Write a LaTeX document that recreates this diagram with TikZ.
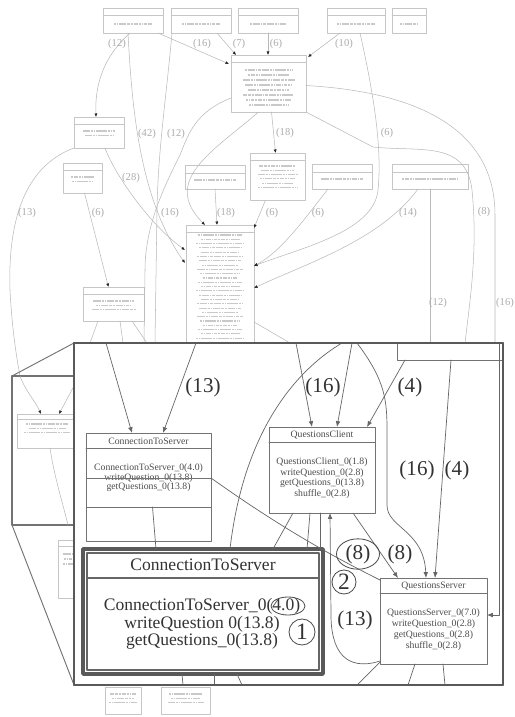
\documentclass[tikz,border=0pt]{standalone}
\usepackage{fontspec}
\setmainfont{Liberation Serif}
\usetikzlibrary{arrows.meta, positioning, calc, shapes.geometric}

% class box: style, name, x, y, width, height, header (all in px)
\newcommand{\classbox}[7]{%
  \node[#1, minimum width=#5*\px, minimum height=#6*\px, anchor=north west] (#2) at (#3,#4) {};
  \draw[#1, fill=none] ([yshift=-#7*\px]#2.north west) -- ([yshift=-#7*\px]#2.north east);
}
% unreadable text rows: node, offset, rows, width, step
\newcommand{\blurrows}[5]{%
  \foreach \k in {1,...,#3}{%
    \pgfmathsetmacro{\ww}{#4*(0.72+0.028*mod(7*\k,11))}
    \draw[blurtext] ($(#1.north)+({-\ww/2},{#2+#5*(\k-1)})$) -- ++(\ww,0);
  }%
}

\begin{document}
\begin{tikzpicture}[x=0.03cm, y=-0.03cm, >=Latex, line cap=round, line join=round]

	%======================
	% PARAMETERS
	%======================
	\def\px{0.03cm}      % one pixel of the scan
	
	%======================
	% STYLES
	%======================
	\tikzset{
		bgbox/.style={draw=gray!45, line width=0.4pt, fill=white, inner sep=0pt, outer sep=0pt},
		blurtext/.style={draw=gray!42, line width=1pt, dash pattern=on 2pt off 0.5pt on 1.1pt off 0.5pt on 2.6pt off 0.5pt, line cap=butt},
		bgedge/.style={draw=gray!55, line width=0.45pt},
		bgarrow/.style={bgedge, -{Latex[length=3pt,width=2.6pt,color=gray!30!black]}},
		bglabel/.style={text=gray!65, font=\fontsize{9}{9}\selectfont, inner sep=0pt},
		zoomframe/.style={draw=black!65, line width=2.2pt, fill=white},
		sideframe/.style={draw=black!55, line width=1.1pt, fill=white},
		sidelink/.style={draw=black!55, line width=0.8pt},
		midbox/.style={draw=black!55, line width=0.7pt, fill=white, inner sep=0pt, outer sep=0pt},
		midedge/.style={draw=black!60, line width=0.6pt},
		midarrow/.style={midedge, -{Latex[length=5pt,width=4pt]}},
		midtext/.style={text=black!70, font=\fontsize{8.3}{8.2}\selectfont, align=center, inner sep=0pt},
		midlabel/.style={text=black!80, font=\fontsize{18}{18}\selectfont, inner sep=1pt},
		bigbox/.style={draw=black!65, line width=3pt, fill=white, inner sep=0pt, outer sep=0pt},
		bigrule/.style={draw=black!60, line width=0.9pt},
		bigtext/.style={text=black!80, font=\fontsize{15}{15}\selectfont, align=center, inner sep=0pt},
		ringmark/.style={draw=black!70, line width=0.7pt}
	}
	
	\useasboundingbox (0,0) rectangle (515,717);
	\clip (0,0) rectangle (515,717);
	\fill[white] (0,0) rectangle (515,717);
	
	\coordinate (zoomNW) at (74,343);
	\coordinate (zoomSE) at (503,685);
	\coordinate (sideNW) at (12,376);
	\coordinate (sideSE) at (74,525);
	
	%======================
	% BACKGROUND GRAPH: boxes
	%======================
	\classbox{bgbox}{clsA}{103}{8}{60}{25}{7}
	\classbox{bgbox}{clsB}{171}{8}{60}{25}{7}
	\classbox{bgbox}{clsC}{238}{8}{60}{25}{7}
	\classbox{bgbox}{clsD}{327}{8}{58}{25}{7}
	\classbox{bgbox}{clsE}{392}{8}{34}{25}{7}
	\classbox{bgbox}{clsQ}{231}{55}{75}{57}{7}
	\classbox{bgbox}{clsF}{74}{117}{50}{31}{7}
	\classbox{bgbox}{clsG}{63}{163}{39}{30}{7}
	\classbox{bgbox}{clsH}{250}{153}{55}{47}{7}
	\classbox{bgbox}{clsI}{185}{165}{60}{24}{8}
	\classbox{bgbox}{clsJ}{312}{164}{60}{25}{8}
	\classbox{bgbox}{clsK}{392}{164}{76}{25}{8}
	\classbox{bgbox}{clsL}{186}{225}{68}{135}{7}
	\classbox{bgbox}{clsM}{83}{287}{61}{34}{7}
	
	\blurrows{clsA}{16}{1}{42}{4.3}
	\blurrows{clsB}{16}{1}{42}{4.3}
	\blurrows{clsC}{16}{1}{40}{4.3}
	\blurrows{clsD}{16}{1}{42}{4.3}
	\blurrows{clsE}{16}{1}{20}{4.3}
	\blurrows{clsQ}{15}{8}{52}{5}
	\blurrows{clsF}{14}{2}{36}{4.3}
	\blurrows{clsG}{14}{2}{26}{4.3}
	\blurrows{clsH}{13}{6}{40}{4.3}
	\blurrows{clsI}{15}{1}{45}{4.3}
	\blurrows{clsJ}{15}{1}{45}{4.3}
	\blurrows{clsK}{15}{1}{62}{4.3}
	\blurrows{clsL}{10}{26}{48}{4.3}
	\blurrows{clsM}{14}{3}{44}{4.3}
	
	%======================
	% BACKGROUND GRAPH: edges
	%======================
	\draw[bgarrow] ($(clsA.south)+(-3,0)$) .. controls (100,60) and (95,90) .. ($(clsF.north)+(-3,0)$);
	\draw[bgarrow] ($(clsA.south east)+(-5,0)$) -- ($(clsQ.north west)+(-2,9)$);
	\draw[bgarrow] ($(clsB.south)+(16,0)$) -- ($(clsQ.north west)+(5,0)$);
	\draw[bgarrow] (clsC.south) -- (clsQ.north -| clsC.south);
	\draw[bgarrow] ($(clsD.south west)+(13,0)$) -- ($(clsQ.north east)+(2,2)$);
	\draw[bgarrow] ($(clsD.south)+(4,0)$) .. controls (375,100) and (382,150) .. (378,190)
		.. controls (374,232) and (300,248) .. ($(clsL.north east)+(0,41)$);
	\draw[bgarrow] ($(clsQ.south)+(3,0)$) -- ($(clsH.north)+(-2,0)$);
	\draw[bgedge] ($(clsQ.east)+(0,2)$) .. controls (420,92) and (495,130) .. (495,215) -- ($(zoomSE)+(-8,-342)$);
	\draw[bgedge] (clsQ.south east) -- (373,147) .. controls (420,152) and (466,140) .. (472,190)
		.. controls (478,250) and (470,300) .. ($(zoomNW)+(391,0)$);
	\draw[bgedge] (clsK.south) -- ($(clsK.south)+(0,154)$);
	\draw[bgarrow] ($(clsK.south)+(-12,0)$) .. controls (380,240) and (310,262) .. ($(clsL.north east)+(0,63)$);
	\draw[bgarrow] ($(clsJ.south)+(-14,0)$) .. controls (300,225) and (280,252) .. ($(clsL.north east)+(0,41)$);
	\draw[bgarrow] ($(clsH.south)+(-12,0)$) -- ($(clsL.north east)+(0,3)$);
	\draw[bgarrow] (clsI.south) -- ($(clsL.north)+(-3,0)$);
	\draw[bgarrow] ($(clsQ.south)+(-10,0)$) .. controls (215,150) and (160,180) .. ($(clsL.north)+(-15,0)$);
	\draw[bgarrow] ($(clsA.south)+(-5,0)$) .. controls (132,110) and (140,200) .. ($(clsL.north west)+(-1,38)$);
	\draw[bgedge] ($(clsB.south west)+(1,0)$) .. controls (166,100) and (158,150) .. (157,210) -- ($(zoomNW)+(81,0)$);
	\draw[bgedge] ($(clsQ.south west)+(0,-14)$) .. controls (195,112) and (188,135) .. (180,155)
		.. controls (165,185) and (145,225) .. (145,270) -- ($(zoomNW)+(70,0)$);
	\draw[bgarrow] ($(clsF.south)+(6,0)$) .. controls (115,175) and (150,225) .. ($(clsL.north west)+(-1,25)$);
	\draw[bgedge] (clsF.south west) .. controls (20,168) and (8,230) .. (10,290)
		.. controls (12,330) and (17,360) .. ($(sideNW)+(8,0)$);
	\draw[bgarrow] ($(clsG.south)+(2,0)$) -- ($(clsM.north)+(-5,0)$);
	\draw[bgedge] ($(clsM.south west)+(15,0)$) -- ($(zoomNW)+(16,0)$);
	\draw[bgedge] ($(clsM.south west)+(37,0)$) -- ($(zoomNW)+(49,0)$);
	\draw[bgedge] ($(clsM.south west)+(49,0)$) -- ($(zoomNW)+(73,0)$);
	\draw[bgedge] ($(clsL.north east)+(0,97)$) -- ($(zoomNW)+(216,0)$);
	
	% edge labels
	\node[bglabel] (bl1) at (117,44) {(12)};
	\node[bglabel] (bl2) at (202,44) {(16)};
	\node[bglabel] (bl3) at (239,44) {(7)};
	\node[bglabel] (bl4) at (276,44) {(6)};
	\node[bglabel] (bl5) at (344,44) {(10)};
	\node[bglabel] (bl6) at (147,134) {(42)};
	\node[bglabel] (bl7) at (176,134) {(12)};
	\node[bglabel] (bl8) at (285,133) {(18)};
	\node[bglabel] (bl9) at (387,133) {(6)};
	\node[bglabel] (bl10) at (131,178) {(28)};
	\node[bglabel] (bl11) at (27,213) {(13)};
	\node[bglabel] (bl12) at (98,213) {(6)};
	\node[bglabel] (bl13) at (170,213) {(16)};
	\node[bglabel] (bl14) at (226,213) {(18)};
	\node[bglabel] (bl15) at (272,213) {(6)};
	\node[bglabel] (bl16) at (318,213) {(6)};
	\node[bglabel] (bl17) at (408,213) {(14)};
	\node[bglabel] (bl18) at (484,212) {(8)};
	\node[bglabel] (bl19) at (438,303) {(12)};
	\node[bglabel] (bl20) at (505,303) {(16)};
	
	% boxes under the frame
	\node[bgbox, minimum width=36*\px, minimum height=27*\px, anchor=north west] (botA) at (105,687) {};
	\node[bgbox, minimum width=49*\px, minimum height=27*\px, anchor=north west] (botB) at (161,687) {};
	\blurrows{botA}{7}{3}{28}{4.3}
	\blurrows{botB}{7}{3}{36}{4.3}
	
	%======================
	% SIDE FRAME (small view)
	%======================
	\draw[sidelink] (sideNW) -- (zoomNW);
	\draw[sidelink] (sideNW |- sideSE) -- (zoomNW |- zoomSE);
	\draw[sideframe] (sideNW) rectangle (sideSE);
	\classbox{bgbox}{sideCts}{17}{414}{60}{34}{5}
	\blurrows{sideCts}{10}{3}{46}{4.3}
	\draw[bgarrow] ($(sideNW)+(8,0)$) .. controls (26,392) and (36,402) .. ($(sideCts.north west)+(24,0)$);
	\draw[bgarrow] ($(sideNW)+(62,10)$) -- ($(sideCts.north west)+(42,0)$);
	\draw[bgedge] ($(sideCts.south west)+(33,0)$) .. controls (55,480) and (62,500) .. ($(sideSE)+(-6,0)$);
	\classbox{bgbox}{sideLow}{58}{540}{20}{58}{6}
	\blurrows{sideLow}{14}{3}{10}{5}
	
	%======================
	% ZOOM FRAME
	%======================
	\draw[zoomframe] (zoomNW) rectangle (zoomSE);
	
	\node[midbox, minimum width=106*\px, minimum height=17*\px, anchor=north west] (nBox) at (397,343) {};
	
	% ConnectionToServer (small)
	\classbox{midbox}{ctsMid}{86}{433}{125}{74}{15}
	\node[midtext] (ctsMidName) at ($(ctsMid.north)+(0,8)$) {ConnectionToServer};
	\node[midtext] (ctsMidOps) at ($(ctsMid.north)+(0,45)$) {ConnectionToServer\_0(4.0)\\writeQuestion\_0(13.8)\\getQuestions\_0(13.8)};
	\node[midbox, fill=none, minimum width=125*\px, minimum height=63*\px, anchor=north west] (ctsMidBack) at (86,478) {};
	
	% QuestionsClient
	\classbox{midbox}{qClient}{269}{427}{106}{86}{15}
	\node[midtext] (qClientName) at ($(qClient.north)+(0,8)$) {QuestionsClient};
	\node[midtext, font=\fontsize{8.3}{9.1}\selectfont] (qClientOps) at ($(qClient.north)+(0,51)$) {QuestionsClient\_0(1.8)\\writeQuestion\_0(2.8)\\getQuestions\_0(13.8)\\shuffle\_0(2.8)};
	
	% QuestionsServer
	\classbox{midbox}{qServer}{380}{578}{107}{86}{15}
	\node[midtext] (qServerName) at ($(qServer.north)+(0,8)$) {QuestionsServer};
	\node[midtext, font=\fontsize{8.3}{9.3}\selectfont] (qServerOps) at ($(qServer.north)+(0,51.5)$) {QuestionsServer\_0(7.0)\\writeQuestion\_0(2.8)\\getQuestions\_0(2.8)\\shuffle\_0(2.8)};
	
	% ConnectionToServer (highlighted)
	\node[bigbox, minimum width=240*\px, minimum height=125*\px, anchor=north west] (ctsBig) at (83,549) {};
	\draw[bigrule] ($(ctsBig.north west)+(4,4)$) rectangle ($(ctsBig.south east)+(-4,-4)$);
	\draw[bigrule, line width=1.5pt] ($(ctsBig.north west)+(4,29)$) -- ($(ctsBig.north east)+(-4,29)$);
	\node[bigtext] (ctsBigName) at ($(ctsBig.north)+(0,16)$) {ConnectionToServer};
	\node[bigtext, font=\fontsize{15}{14.9}\selectfont] (ctsBigOps) at ($(ctsBig.north)+(-1,75)$) {ConnectionToServer\_0(4.0)\\writeQuestion 0(13.8)\\getQuestions\_0(13.8)};
	
	% edges inside the frame
	\draw[midarrow] ($(zoomNW)+(32,0)$) -- ($(ctsMid.north west)+(46,0)$);
	\draw[midarrow] ($(zoomNW)+(122,0)$) -- ($(ctsMid.north west)+(77,0)$);
	\draw[midarrow] ($(zoomNW)+(222,0)$) -- ($(qClient.north west)+(43,0)$);
	\draw[midarrow] ($(zoomNW)+(278,0)$) -- ($(qClient.north west)+(68,0)$);
	\draw[midarrow] ($(nBox.south west)+(8,0)$) -- ($(qClient.north west)+(98,0)$);
	\draw[midedge] ($(zoomNW)+(268,0)$) .. controls (305,365) and (245,420) .. ($(ctsBig.north west)+(147,0)$);
	\draw[midarrow] ($(zoomNW)+(283,0)$) .. controls (385,380) and (387,400) .. (387,430) -- (387,505)
		.. controls (387,528) and (424,530) .. ($(qServer.north west)+(46,0)$);
	\draw[midarrow] ($(nBox.south west)+(54,0)$) -- ($(qServer.north west)+(55,0)$);
	\draw[midarrow] ($(zoomSE)+(-4,-342)$) -- ($(zoomSE)+(-4,-70)$) -- ($(qServer.north east)+(0,37)$);
	\draw[midarrow] ($(qClient.south west)+(84,0)$) -- ($(qServer.north west)+(18,0)$);
	\draw[midedge] ($(ctsMid.north east)+(0,45)$) .. controls (280,527) and (330,555) .. ($(qServer.north west)+(0,2)$);
	\draw[midarrow] ($(qServer.south west)+(0,-3)$) .. controls (345,672) and (331,650) .. (331,615) -- ($(qClient.south west)+(61,0)$);
	\draw[midedge] ($(qClient.south west)+(24,0)$) -- ($(ctsBig.north east)+(-50,0)$);
	\draw[midedge] ($(qClient.south west)+(41,0)$) -- ($(ctsBig.north east)+(-16,0)$);
	\draw[midedge] ($(qClient.south west)+(51,0)$) -- ($(ctsBig.north east)+(-3,0)$);
	\draw[midedge] ($(ctsMid.south)+(4,0)$) -- ($(ctsBig.north west)+(73,0)$);
	\draw[midedge] ($(ctsBig.south west)+(99,0)$) -- ($(zoomNW |- zoomSE)+(109,0)$);
	\draw[midedge] ($(ctsBig.south west)+(131,0)$) -- ($(zoomNW |- zoomSE)+(140,0)$);
	\draw[midedge] ($(ctsBig.south west)+(154,0)$) -- ($(zoomNW |- zoomSE)+(168,0)$);
	\draw[midedge] ($(qServer.south west)+(35,0)$) -- ($(zoomNW |- zoomSE)+(334,0)$);
	\draw[midedge] ($(qServer.south west)+(63,0)$) -- ($(zoomNW |- zoomSE)+(371,0)$);
	\draw[midedge] ($(qServer.south west)+(0,-2)$) -- ($(zoomNW |- zoomSE)+(283,0)$);
	
	% labels and marks
	\node[midlabel] (lab13a) at (203,387) {(13)};
	\node[midlabel] (lab16a) at (323,387) {(16)};
	\node[midlabel] (lab4a) at (410,387) {(4)};
	\node[midlabel] (lab16b) at (417,470) {(16)};
	\node[midlabel] (lab4b) at (457,470) {(4)};
	\node[midlabel, ellipse, ringmark, minimum width=43*\px, minimum height=25*\px] (lab8a) at (358,554) {(8)};
	\node[midlabel] (lab8b) at (400,554) {(8)};
	\node[midlabel] (lab13b) at (355,620) {(13)};
	\node[midlabel, circle, ringmark, inner sep=0pt, minimum size=24*\px, font=\fontsize{20}{20}\selectfont] (mark2) at (344,582) {2};
	\node[midlabel, circle, ringmark, inner sep=0pt, minimum size=26*\px, font=\fontsize{20}{20}\selectfont] (mark1) at (302,632) {1};
	\node[ringmark, ellipse, minimum width=34*\px, minimum height=18*\px] (ring40) at (288,606) {};
	
	\draw[zoomframe, fill=none] (zoomNW) rectangle (zoomSE);
	
\end{tikzpicture}
\end{document}
